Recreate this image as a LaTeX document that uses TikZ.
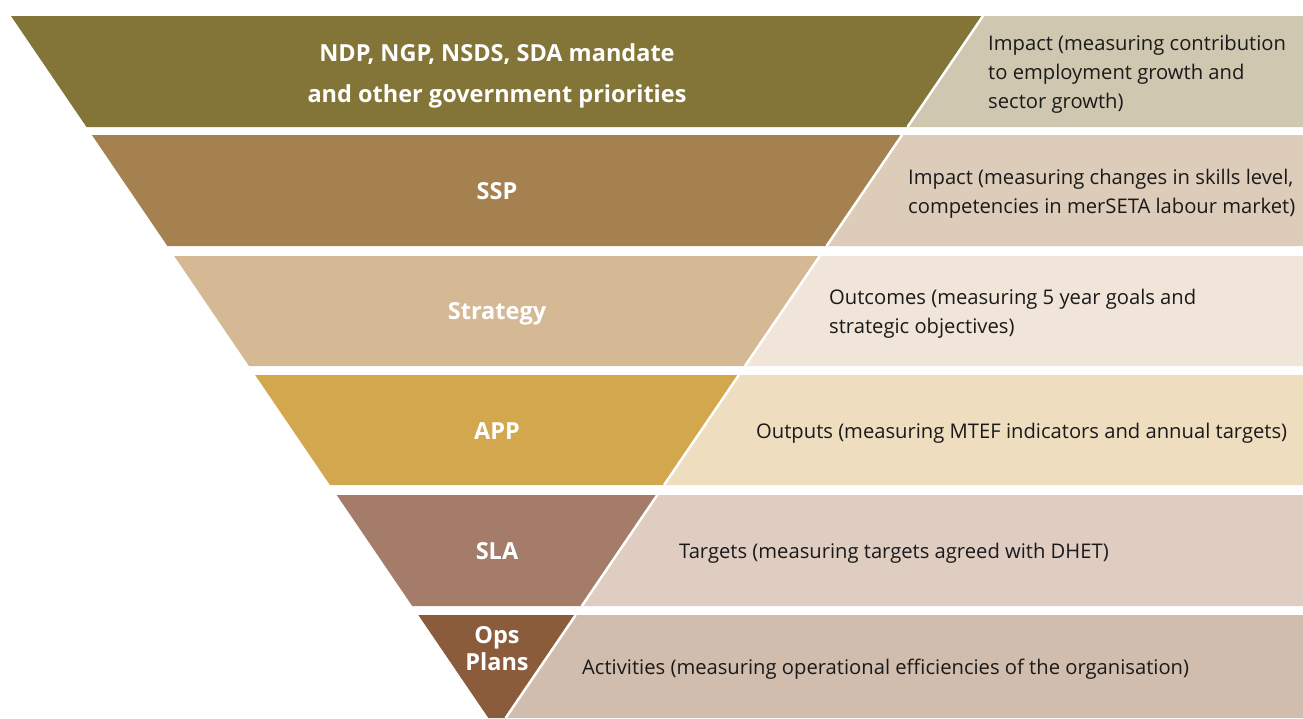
\documentclass[tikz,border=0pt]{standalone}
\usepackage{fontspec}
\setmainfont{Open Sans}
\usepackage{tikz}
\usetikzlibrary{positioning}

\definecolor{lvlA}{HTML}{837537}
\definecolor{lvlB}{HTML}{A5814F}
\definecolor{lvlC}{HTML}{D5B995}
\definecolor{lvlD}{HTML}{D3A74E}
\definecolor{lvlE}{HTML}{A57B69}
\definecolor{lvlF}{HTML}{8A5C3C}
\definecolor{outA}{HTML}{D0C7B0}
\definecolor{outB}{HTML}{DDCCB9}
\definecolor{outC}{HTML}{F0E5D8}
\definecolor{outD}{HTML}{EEDEBF}
\definecolor{outE}{HTML}{DFCDC2}
\definecolor{outF}{HTML}{D1BDAE}
\definecolor{txtdark}{HTML}{1A1A1A}

\tikzset{
    lvllabel/.style={text=white, align=center, inner sep=0pt,
        font=\bfseries\fontsize{23.5}{27}\selectfont},
    outlabel/.style={text=txtdark, align=left, anchor=west, inner sep=0pt,
        font=\fontsize{20.2}{29}\selectfont},
    splitline/.style={white, line width=2.5pt}
}

\begin{document}
\begin{tikzpicture}[x=1pt, y=-1pt]
    \useasboundingbox[fill=white] (0,0) rectangle (1303,718);

    \foreach \i/\ytop/\ybot/\colL/\colR/\lbl/\dy/\xr/\txt in {
        1/16/127/lvlA/outA/{NDP, NGP, NSDS, SDA mandate\\[14pt]and other government priorities}/4/988/{Impact (measuring contribution\\to employment growth and\\sector growth)},
        2/135/246/lvlB/outB/{SSP}/1/908/{Impact (measuring changes in skills level,\\competencies in merSETA labour market)},
        3/256/366/lvlC/outC/{Strategy}/3/829/{Outcomes (measuring 5 year goals and\\strategic objectives)},
        4/375/485/lvlD/outD/{APP}/1/756/{Outputs (measuring MTEF indicators and annual targets)},
        5/495/606/lvlE/outE/{SLA}/1/679/{Targets (measuring targets agreed with DHET)},
        6/615/718/lvlF/outF/{Ops\\Plans}/-18/582/{Activities (measuring operational efficiencies of the organisation)}}{
        \pgfmathsetmacro\wt{486-0.68*(\ytop-16)}
        \pgfmathsetmacro\wb{486-0.68*(\ybot-16)}
        \coordinate (tl\i) at ({497-\wt},\ytop);
        \coordinate (tr\i) at ({497+\wt},\ytop);
        \coordinate (bl\i) at ({497-\wb},\ybot);
        \coordinate (br\i) at ({497+\wb},\ybot);
        \coordinate (te\i) at (1303,\ytop);
        \coordinate (be\i) at (1303,\ybot);
        % funnel level and its measure
        \fill[\colL] (tl\i) -- (tr\i) -- (br\i) -- (bl\i) -- cycle;
        \fill[\colR] (tr\i) -- (te\i) -- (be\i) -- (br\i) -- cycle;
        \draw[splitline] (tr\i) -- (br\i);
        \node[lvllabel] (lvl\i) at (497,{(\ytop+\ybot)/2+\dy}) {\lbl};
        \node[outlabel] (out\i) at (\xr,{(\ytop+\ybot)/2+3}) {\txt};
    }
\end{tikzpicture}
\end{document}
